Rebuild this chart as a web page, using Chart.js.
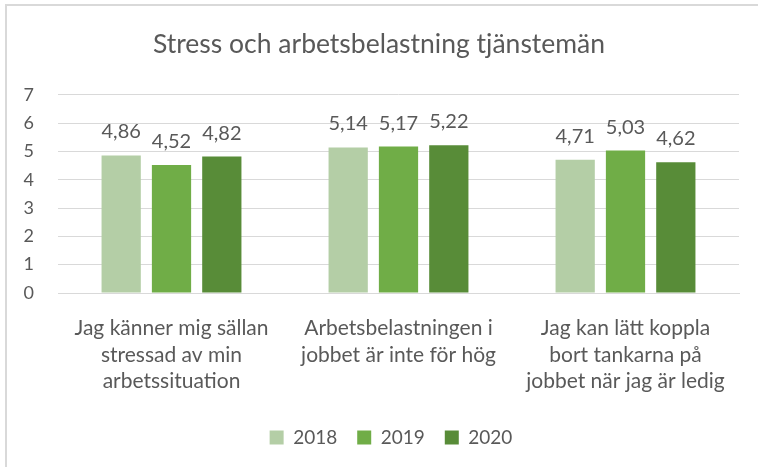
<!DOCTYPE html>
<html>
<head>
<meta charset="utf-8">
<script src="https://cdn.jsdelivr.net/npm/chart.js@4/dist/chart.umd.min.js"></script>
<style>
  html, body { margin: 0; padding: 0; background: #ffffff; }
  #wrap { position: relative; width: 758px; height: 467px; overflow: hidden; }
  #frame { position: absolute; left: 5px; top: 4px; width: 800px; height: 500px;
           border-top: 2px solid #d9d9d9; border-left: 2px solid #d9d9d9; }
  canvas { position: absolute; left: 0; top: 0; }
</style>
</head>
<body>
<div id="wrap">
  <div id="frame"></div>
  <canvas id="c" width="758" height="467"></canvas>
</div>
<script>
const chartTitle = "Stress och arbetsbelastning tjänstemän";
const categories = [
  ["Jag känner mig sällan", "stressad av min", "arbetssituation"],
  ["Arbetsbelastningen i", "jobbet är inte för hög"],
  ["Jag kan lätt koppla", "bort tankarna på", "jobbet när jag är ledig"]
];
const seriesNames = ["2018", "2019", "2020"];
const values2018 = [4.86, 5.14, 4.71];
const values2019 = [4.52, 5.17, 5.03];
const values2020 = [4.82, 5.22, 4.62];
const seriesColors = ["#B4CEA6", "#70AD47", "#588C38"];
const yTicks = [0, 1, 2, 3, 4, 5, 6, 7];

const FONT = "Lato, 'Open Sans', sans-serif";
const TEXT = "#595959";

const valueLabels = {
  id: "valueLabels",
  afterDatasetsDraw(chart) {
    const ctx = chart.ctx;
    ctx.save();
    ctx.font = "20px " + FONT;
    ctx.fillStyle = TEXT;
    ctx.textAlign = "center";
    ctx.textBaseline = "alphabetic";
    chart.data.datasets.forEach((ds, i) => {
      const meta = chart.getDatasetMeta(i);
      meta.data.forEach((bar, j) => {
        const txt = ds.data[j].toFixed(2).replace(".", ",");
        ctx.fillText(txt, bar.x, bar.y - 17);
      });
    });
    ctx.restore();
  }
};

const legendShift = {
  id: "legendShift",
  beforeDraw(chart) {
    const lg = chart.legend;
    if (lg && !lg._shifted) {
      lg.left += 12; lg.right += 12;
      lg._shifted = true;
    }
  }
};

new Chart(document.getElementById("c"), {
  type: "bar",
  data: {
    labels: categories,
    datasets: [
      { label: seriesNames[0], data: values2018, backgroundColor: seriesColors[0] },
      { label: seriesNames[1], data: values2019, backgroundColor: seriesColors[1] },
      { label: seriesNames[2], data: values2020, backgroundColor: seriesColors[2] }
    ]
  },
  options: {
    responsive: false,
    animation: false,
    devicePixelRatio: 1,
    layout: { padding: { left: 19, right: 19, top: 0, bottom: 10 } },
    datasets: { bar: { categoryPercentage: 0.665, barPercentage: 0.78 } },
    plugins: {
      title: {
        display: true,
        text: chartTitle,
        color: TEXT,
        font: { family: FONT, size: 26.5, weight: "normal", lineHeight: 1.2 },
        padding: { top: 29, bottom: 34 }
      },
      legend: {
        position: "bottom",
        labels: {
          color: TEXT,
          font: { family: FONT, size: 19 },
          boxWidth: 14,
          boxHeight: 14,
          padding: 20
        }
      },
      tooltip: { enabled: false }
    },
    scales: {
      x: {
        grid: { display: false, drawTicks: false },
        border: { display: true, color: "#d9d9d9", width: 1 },
        ticks: {
          color: TEXT,
          font: { family: FONT, size: 21, lineHeight: 1.27 },
          padding: 22,
          maxRotation: 0,
          autoSkip: false
        },
        afterFit(s) { s.height = 115; }
      },
      y: {
        min: 0,
        max: 7,
        afterBuildTicks(s) { s.ticks = yTicks.map(v => ({ value: v })); },
        grid: { color: "#d9d9d9", drawTicks: false, lineWidth: 1 },
        border: { display: false },
        ticks: {
          color: TEXT,
          font: { family: FONT, size: 18 },
          padding: 24,
          callback: v => String(v)
        },
        afterFit(s) { s.width = 39; }
      }
    }
  },
  plugins: [valueLabels, legendShift]
});
</script>
</body>
</html>
